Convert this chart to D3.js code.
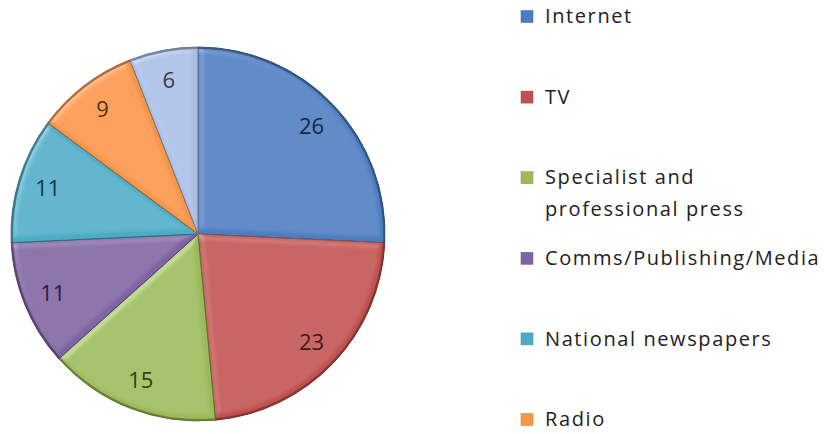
<!DOCTYPE html>
<html><head><meta charset="utf-8">
<script src="https://cdn.jsdelivr.net/npm/d3@7/dist/d3.min.js"></script>
<style>body{margin:0;background:#fff}svg{display:block}</style>
</head><body>
<svg id="c" width="824" height="434"></svg>
<script>
const categories = ["Internet","TV","Specialist and professional press","Comms/Publishing/Media","National newspapers","Radio","Other"];
const values = [26,23,15,11,11,9,6];
const colors = ["#4A7EC0","#C0504D","#9BBB59","#8064A2","#4BACC6","#F79646","#A9BCE2"];
const legendLines = [["Internet"],["TV"],["Specialist and","professional press"],["Comms/Publishing/Media"],["National newspapers"],["Radio"],["Other"]];

const W = 824, H = 434;
const svg = d3.select("#c");
const cx = 198, cy = 234, R = 187;
const defs = svg.append("defs");
const f = defs.append("filter").attr("id","bevel").attr("x","-10%").attr("y","-10%").attr("width","120%").attr("height","120%");
f.append("feGaussianBlur").attr("in","SourceAlpha").attr("stdDeviation",3).attr("result","blur");
f.append("feSpecularLighting").attr("in","blur").attr("surfaceScale",3).attr("specularConstant",0.6).attr("specularExponent",14).attr("lighting-color","#ffffff").attr("result","spec")
  .append("feDistantLight").attr("azimuth",225).attr("elevation",40);
f.append("feComposite").attr("in","spec").attr("in2","SourceAlpha").attr("operator","in").attr("result","specIn");
f.append("feComposite").attr("in","SourceGraphic").attr("in2","specIn").attr("operator","arithmetic").attr("k1",0).attr("k2",1).attr("k3",0.35).attr("k4",0);

const color = d3.scaleOrdinal().domain(categories).range(colors);
const pie = d3.pie().sort(null).value(d=>d.v);
const data = categories.map((c,i)=>({c, v:values[i]}));
const arcs = pie(data);
const arc = d3.arc().innerRadius(0).outerRadius(R);
const rimArc = d3.arc().innerRadius(R-2).outerRadius(R);
const labelArc = d3.arc().innerRadius(157).outerRadius(157);

const g = svg.append("g").attr("transform",`translate(${cx},${cy})`);
g.selectAll("path.s").data(arcs).join("path").attr("class","s")
  .attr("d",arc).attr("fill",d=>color(d.data.c))
  .attr("stroke",d=>d3.color(color(d.data.c)).darker(1.4)).attr("stroke-width",1)
  .attr("filter","url(#bevel)");
g.selectAll("path.r").data(arcs).join("path").attr("class","r")
  .attr("d",rimArc).attr("fill",d=>d3.color(color(d.data.c)).darker(1.3)).attr("opacity",0.8);
g.selectAll("text").data(arcs).join("text")
  .attr("transform",d=>`translate(${labelArc.centroid(d)})`)
  .attr("text-anchor","middle").attr("dy","0.36em")
  .attr("font-family","'Open Sans', sans-serif").attr("font-size",22)
  .attr("fill",d=>d3.color(color(d.data.c)).darker(3.2)).text(d=>d.data.v);

// legend: the reference's legend is clipped by the frame, so only entries that fall inside it are drawn
const legendY = i => 16.5 + i*80.6;
const shown = categories.map((c,i)=>({c,i})).filter(d=>legendY(d.i) + 10 < H);
const lg = svg.append("g");
const item = lg.selectAll("g").data(shown).join("g")
  .attr("transform",d=>`translate(521,${legendY(d.i)})`);
item.append("rect").attr("x",0).attr("y",-6).attr("width",12).attr("height",12)
  .attr("fill",d=>color(d.c)).attr("stroke",d=>d3.color(color(d.c)).darker(0.5)).attr("stroke-width",0.5);
item.append("text").attr("x",24).attr("font-family","'Open Sans', sans-serif").attr("font-size",20).attr("letter-spacing",1.6).attr("fill","#222")
  .selectAll("tspan").data(d=>legendLines[d.i]).join("tspan")
  .attr("x",24).attr("y",(d,j)=>j*32).attr("dy","0.33em").text(d=>d);
</script>
</body></html>
